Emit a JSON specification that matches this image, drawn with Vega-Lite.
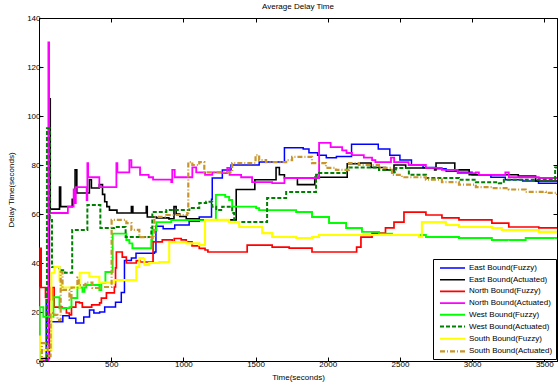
{
"$schema":"https://vega.github.io/schema/vega-lite/v6.json",
"width":518,"height":343,
"autosize":{"type":"none"},
"padding":{"left":39,"top":18,"right":1,"bottom":26},
"background":"white",
"title":{"text":"Average Delay Time","fontSize":8,"fontWeight":"normal","font":"Liberation Sans","offset":3,"color":"black"},
"config":{
 "view":{"stroke":"black","strokeWidth":1},
 "axis":{"domainColor":"black","tickColor":"black","labelColor":"black","titleColor":"black","labelFont":"Liberation Sans","titleFont":"Liberation Sans","labelFontSize":8,"titleFontSize":8,"titleFontWeight":"normal","grid":false,"tickSize":-4,"labelPadding":3,"format":"d"},
 "legend":{"orient":"none","legendX":394,"legendY":241,"strokeColor":"black","fillColor":"white","padding":3,"labelFont":"Liberation Sans","labelFontSize":8,"labelColor":"black","symbolType":"M-2.5,0H2.5","symbolSize":100,"symbolStrokeWidth":1.5,"rowPadding":1.7,"symbolOffset":10,"labelOffset":10}
},
"data":{"values":[
{"s":"East Bound(Fuzzy)","t":0,"v":0},{"s":"East Bound(Fuzzy)","t":48,"v":0},{"s":"East Bound(Fuzzy)","t":50,"v":25},{"s":"East Bound(Fuzzy)","t":53,"v":16},{"s":"East Bound(Fuzzy)","t":165,"v":18.5},{"s":"East Bound(Fuzzy)","t":210,"v":17.5},{"s":"East Bound(Fuzzy)","t":255,"v":15.5},{"s":"East Bound(Fuzzy)","t":310,"v":18},{"s":"East Bound(Fuzzy)","t":350,"v":20.8},{"s":"East Bound(Fuzzy)","t":380,"v":19.6},{"s":"East Bound(Fuzzy)","t":420,"v":20},{"s":"East Bound(Fuzzy)","t":455,"v":22},{"s":"East Bound(Fuzzy)","t":530,"v":24},{"s":"East Bound(Fuzzy)","t":570,"v":28},{"s":"East Bound(Fuzzy)","t":592,"v":41},{"s":"East Bound(Fuzzy)","t":640,"v":42},{"s":"East Bound(Fuzzy)","t":672,"v":44},{"s":"East Bound(Fuzzy)","t":800,"v":44.5},{"s":"East Bound(Fuzzy)","t":810,"v":55},{"s":"East Bound(Fuzzy)","t":860,"v":54},{"s":"East Bound(Fuzzy)","t":940,"v":55.5},{"s":"East Bound(Fuzzy)","t":1040,"v":57},{"s":"East Bound(Fuzzy)","t":1110,"v":58.8},{"s":"East Bound(Fuzzy)","t":1195,"v":66},{"s":"East Bound(Fuzzy)","t":1200,"v":74.7},{"s":"East Bound(Fuzzy)","t":1270,"v":78},{"s":"East Bound(Fuzzy)","t":1330,"v":80},{"s":"East Bound(Fuzzy)","t":1525,"v":81.2},{"s":"East Bound(Fuzzy)","t":1700,"v":87},{"s":"East Bound(Fuzzy)","t":1830,"v":86.5},{"s":"East Bound(Fuzzy)","t":1870,"v":85},{"s":"East Bound(Fuzzy)","t":1930,"v":84},{"s":"East Bound(Fuzzy)","t":1990,"v":83},{"s":"East Bound(Fuzzy)","t":2060,"v":83.5},{"s":"East Bound(Fuzzy)","t":2165,"v":88.5},{"s":"East Bound(Fuzzy)","t":2350,"v":86.5},{"s":"East Bound(Fuzzy)","t":2430,"v":84},{"s":"East Bound(Fuzzy)","t":2500,"v":82},{"s":"East Bound(Fuzzy)","t":2580,"v":80},{"s":"East Bound(Fuzzy)","t":2660,"v":79},{"s":"East Bound(Fuzzy)","t":2750,"v":78.5},{"s":"East Bound(Fuzzy)","t":2820,"v":77.5},{"s":"East Bound(Fuzzy)","t":2900,"v":77},{"s":"East Bound(Fuzzy)","t":3000,"v":76},{"s":"East Bound(Fuzzy)","t":3130,"v":75},{"s":"East Bound(Fuzzy)","t":3230,"v":74},{"s":"East Bound(Fuzzy)","t":3350,"v":73.5},{"s":"East Bound(Fuzzy)","t":3460,"v":72.6},{"s":"East Bound(Fuzzy)","t":3588,"v":72.3},
{"s":"East Bound(Actuated)","t":0,"v":1},{"s":"East Bound(Actuated)","t":65,"v":1},{"s":"East Bound(Actuated)","t":72,"v":107},{"s":"East Bound(Actuated)","t":78,"v":62},{"s":"East Bound(Actuated)","t":142,"v":71},{"s":"East Bound(Actuated)","t":150,"v":63},{"s":"East Bound(Actuated)","t":230,"v":66},{"s":"East Bound(Actuated)","t":250,"v":78},{"s":"East Bound(Actuated)","t":262,"v":68.6},{"s":"East Bound(Actuated)","t":340,"v":68.6},{"s":"East Bound(Actuated)","t":349,"v":74},{"s":"East Bound(Actuated)","t":363,"v":70.6},{"s":"East Bound(Actuated)","t":418,"v":72},{"s":"East Bound(Actuated)","t":440,"v":68},{"s":"East Bound(Actuated)","t":455,"v":65},{"s":"East Bound(Actuated)","t":470,"v":63},{"s":"East Bound(Actuated)","t":488,"v":61.6},{"s":"East Bound(Actuated)","t":540,"v":60.4},{"s":"East Bound(Actuated)","t":630,"v":60.4},{"s":"East Bound(Actuated)","t":640,"v":63},{"s":"East Bound(Actuated)","t":650,"v":60.4},{"s":"East Bound(Actuated)","t":740,"v":60.4},{"s":"East Bound(Actuated)","t":743,"v":63},{"s":"East Bound(Actuated)","t":750,"v":58.8},{"s":"East Bound(Actuated)","t":813,"v":58.4},{"s":"East Bound(Actuated)","t":900,"v":58},{"s":"East Bound(Actuated)","t":935,"v":63},{"s":"East Bound(Actuated)","t":950,"v":60},{"s":"East Bound(Actuated)","t":975,"v":59},{"s":"East Bound(Actuated)","t":1020,"v":58},{"s":"East Bound(Actuated)","t":1110,"v":57.6},{"s":"East Bound(Actuated)","t":1366,"v":70},{"s":"East Bound(Actuated)","t":1495,"v":74},{"s":"East Bound(Actuated)","t":1636,"v":74},{"s":"East Bound(Actuated)","t":1642,"v":79},{"s":"East Bound(Actuated)","t":1665,"v":76},{"s":"East Bound(Actuated)","t":1700,"v":74.7},{"s":"East Bound(Actuated)","t":1790,"v":72},{"s":"East Bound(Actuated)","t":1910,"v":75},{"s":"East Bound(Actuated)","t":2135,"v":80.5},{"s":"East Bound(Actuated)","t":2220,"v":80.8},{"s":"East Bound(Actuated)","t":2300,"v":79},{"s":"East Bound(Actuated)","t":2400,"v":78},{"s":"East Bound(Actuated)","t":2445,"v":77},{"s":"East Bound(Actuated)","t":2459,"v":80},{"s":"East Bound(Actuated)","t":2540,"v":78.8},{"s":"East Bound(Actuated)","t":2740,"v":78},{"s":"East Bound(Actuated)","t":2750,"v":80.8},{"s":"East Bound(Actuated)","t":2880,"v":78},{"s":"East Bound(Actuated)","t":2980,"v":76},{"s":"East Bound(Actuated)","t":3320,"v":75.5},{"s":"East Bound(Actuated)","t":3440,"v":73.5},{"s":"East Bound(Actuated)","t":3588,"v":73.5},
{"s":"North Bound(Fuzzy)","t":0,"v":0},{"s":"North Bound(Fuzzy)","t":3,"v":30},{"s":"North Bound(Fuzzy)","t":8,"v":46},{"s":"North Bound(Fuzzy)","t":15,"v":30},{"s":"North Bound(Fuzzy)","t":45,"v":26},{"s":"North Bound(Fuzzy)","t":60,"v":30},{"s":"North Bound(Fuzzy)","t":75,"v":25},{"s":"North Bound(Fuzzy)","t":90,"v":30},{"s":"North Bound(Fuzzy)","t":105,"v":22},{"s":"North Bound(Fuzzy)","t":160,"v":21.6},{"s":"North Bound(Fuzzy)","t":190,"v":19.6},{"s":"North Bound(Fuzzy)","t":210,"v":18.8},{"s":"North Bound(Fuzzy)","t":225,"v":22},{"s":"North Bound(Fuzzy)","t":255,"v":24},{"s":"North Bound(Fuzzy)","t":280,"v":23.7},{"s":"North Bound(Fuzzy)","t":300,"v":22},{"s":"North Bound(Fuzzy)","t":365,"v":22.9},{"s":"North Bound(Fuzzy)","t":420,"v":23.7},{"s":"North Bound(Fuzzy)","t":432,"v":25.7},{"s":"North Bound(Fuzzy)","t":467,"v":27.8},{"s":"North Bound(Fuzzy)","t":522,"v":30.2},{"s":"North Bound(Fuzzy)","t":530,"v":38},{"s":"North Bound(Fuzzy)","t":536,"v":44.5},{"s":"North Bound(Fuzzy)","t":577,"v":42.4},{"s":"North Bound(Fuzzy)","t":605,"v":40},{"s":"North Bound(Fuzzy)","t":674,"v":41},{"s":"North Bound(Fuzzy)","t":700,"v":40.4},{"s":"North Bound(Fuzzy)","t":785,"v":40},{"s":"North Bound(Fuzzy)","t":790,"v":48.6},{"s":"North Bound(Fuzzy)","t":854,"v":49.4},{"s":"North Bound(Fuzzy)","t":923,"v":48.6},{"s":"North Bound(Fuzzy)","t":937,"v":50},{"s":"North Bound(Fuzzy)","t":985,"v":49.4},{"s":"North Bound(Fuzzy)","t":1020,"v":48.6},{"s":"North Bound(Fuzzy)","t":1060,"v":47},{"s":"North Bound(Fuzzy)","t":1110,"v":46},{"s":"North Bound(Fuzzy)","t":1150,"v":45.3},{"s":"North Bound(Fuzzy)","t":1170,"v":44.5},{"s":"North Bound(Fuzzy)","t":1442,"v":47.3},{"s":"North Bound(Fuzzy)","t":1615,"v":46.5},{"s":"North Bound(Fuzzy)","t":1733,"v":46.1},{"s":"North Bound(Fuzzy)","t":1891,"v":44.5},{"s":"North Bound(Fuzzy)","t":2200,"v":46.5},{"s":"North Bound(Fuzzy)","t":2230,"v":50.6},{"s":"North Bound(Fuzzy)","t":2307,"v":52.2},{"s":"North Bound(Fuzzy)","t":2400,"v":54.3},{"s":"North Bound(Fuzzy)","t":2459,"v":56.7},{"s":"North Bound(Fuzzy)","t":2528,"v":60.8},{"s":"North Bound(Fuzzy)","t":2680,"v":59.6},{"s":"North Bound(Fuzzy)","t":2791,"v":58.4},{"s":"North Bound(Fuzzy)","t":2909,"v":57.6},{"s":"North Bound(Fuzzy)","t":3137,"v":56.3},{"s":"North Bound(Fuzzy)","t":3254,"v":54.7},{"s":"North Bound(Fuzzy)","t":3462,"v":54.3},{"s":"North Bound(Fuzzy)","t":3588,"v":54.3},
{"s":"North Bound(Actuated)","t":0,"v":0},{"s":"North Bound(Actuated)","t":60,"v":0},{"s":"North Bound(Actuated)","t":65,"v":130},{"s":"North Bound(Actuated)","t":70,"v":60.4},{"s":"North Bound(Actuated)","t":200,"v":63},{"s":"North Bound(Actuated)","t":240,"v":70},{"s":"North Bound(Actuated)","t":250,"v":64.5},{"s":"North Bound(Actuated)","t":255,"v":71},{"s":"North Bound(Actuated)","t":330,"v":65.7},{"s":"North Bound(Actuated)","t":335,"v":80.8},{"s":"North Bound(Actuated)","t":340,"v":75},{"s":"North Bound(Actuated)","t":418,"v":71},{"s":"North Bound(Actuated)","t":536,"v":80.8},{"s":"North Bound(Actuated)","t":543,"v":77},{"s":"North Bound(Actuated)","t":626,"v":82},{"s":"North Bound(Actuated)","t":640,"v":79},{"s":"North Bound(Actuated)","t":700,"v":76},{"s":"North Bound(Actuated)","t":760,"v":75},{"s":"North Bound(Actuated)","t":790,"v":74},{"s":"North Bound(Actuated)","t":916,"v":73},{"s":"North Bound(Actuated)","t":923,"v":78},{"s":"North Bound(Actuated)","t":940,"v":75},{"s":"North Bound(Actuated)","t":1062,"v":79},{"s":"North Bound(Actuated)","t":1089,"v":77},{"s":"North Bound(Actuated)","t":1150,"v":76},{"s":"North Bound(Actuated)","t":1200,"v":77},{"s":"North Bound(Actuated)","t":1269,"v":76.7},{"s":"North Bound(Actuated)","t":1304,"v":78.8},{"s":"North Bound(Actuated)","t":1320,"v":76},{"s":"North Bound(Actuated)","t":1400,"v":75},{"s":"North Bound(Actuated)","t":1476,"v":73},{"s":"North Bound(Actuated)","t":1615,"v":72.6},{"s":"North Bound(Actuated)","t":1700,"v":74.7},{"s":"North Bound(Actuated)","t":1940,"v":89},{"s":"North Bound(Actuated)","t":2020,"v":87.3},{"s":"North Bound(Actuated)","t":2100,"v":86},{"s":"North Bound(Actuated)","t":2130,"v":84.9},{"s":"North Bound(Actuated)","t":2168,"v":84},{"s":"North Bound(Actuated)","t":2250,"v":83},{"s":"North Bound(Actuated)","t":2307,"v":82},{"s":"North Bound(Actuated)","t":2330,"v":81.2},{"s":"North Bound(Actuated)","t":2438,"v":83},{"s":"North Bound(Actuated)","t":2460,"v":81.2},{"s":"North Bound(Actuated)","t":2560,"v":80},{"s":"North Bound(Actuated)","t":2680,"v":78.8},{"s":"North Bound(Actuated)","t":2790,"v":78},{"s":"North Bound(Actuated)","t":2900,"v":76.7},{"s":"North Bound(Actuated)","t":3026,"v":77},{"s":"North Bound(Actuated)","t":3047,"v":76},{"s":"North Bound(Actuated)","t":3230,"v":77},{"s":"North Bound(Actuated)","t":3254,"v":75},{"s":"North Bound(Actuated)","t":3462,"v":74.7},{"s":"North Bound(Actuated)","t":3588,"v":74.7},
{"s":"West Bound(Fuzzy)","t":0,"v":0},{"s":"West Bound(Fuzzy)","t":5,"v":22},{"s":"West Bound(Fuzzy)","t":30,"v":18},{"s":"West Bound(Fuzzy)","t":100,"v":26},{"s":"West Bound(Fuzzy)","t":142,"v":21.6},{"s":"West Bound(Fuzzy)","t":211,"v":22},{"s":"West Bound(Fuzzy)","t":225,"v":25.7},{"s":"West Bound(Fuzzy)","t":266,"v":30},{"s":"West Bound(Fuzzy)","t":301,"v":28.2},{"s":"West Bound(Fuzzy)","t":315,"v":30},{"s":"West Bound(Fuzzy)","t":328,"v":31},{"s":"West Bound(Fuzzy)","t":418,"v":29},{"s":"West Bound(Fuzzy)","t":432,"v":31.8},{"s":"West Bound(Fuzzy)","t":460,"v":36.3},{"s":"West Bound(Fuzzy)","t":510,"v":52},{"s":"West Bound(Fuzzy)","t":577,"v":52},{"s":"West Bound(Fuzzy)","t":605,"v":49.4},{"s":"West Bound(Fuzzy)","t":626,"v":48},{"s":"West Bound(Fuzzy)","t":647,"v":46},{"s":"West Bound(Fuzzy)","t":778,"v":49.4},{"s":"West Bound(Fuzzy)","t":785,"v":53.5},{"s":"West Bound(Fuzzy)","t":813,"v":56.7},{"s":"West Bound(Fuzzy)","t":916,"v":57.5},{"s":"West Bound(Fuzzy)","t":1225,"v":67.8},{"s":"West Bound(Fuzzy)","t":1290,"v":67},{"s":"West Bound(Fuzzy)","t":1317,"v":65.7},{"s":"West Bound(Fuzzy)","t":1338,"v":63},{"s":"West Bound(Fuzzy)","t":1504,"v":62.4},{"s":"West Bound(Fuzzy)","t":1525,"v":61.6},{"s":"West Bound(Fuzzy)","t":1781,"v":60.8},{"s":"West Bound(Fuzzy)","t":1891,"v":58.8},{"s":"West Bound(Fuzzy)","t":2009,"v":56.3},{"s":"West Bound(Fuzzy)","t":2127,"v":54.3},{"s":"West Bound(Fuzzy)","t":2237,"v":52.7},{"s":"West Bound(Fuzzy)","t":2355,"v":52},{"s":"West Bound(Fuzzy)","t":2445,"v":51.4},{"s":"West Bound(Fuzzy)","t":2680,"v":50.6},{"s":"West Bound(Fuzzy)","t":2909,"v":50.2},{"s":"West Bound(Fuzzy)","t":3137,"v":49.4},{"s":"West Bound(Fuzzy)","t":3371,"v":50.2},{"s":"West Bound(Fuzzy)","t":3588,"v":50.2},
{"s":"West Bound(Actuated)","t":0,"v":0},{"s":"West Bound(Actuated)","t":50,"v":0},{"s":"West Bound(Actuated)","t":55,"v":95},{"s":"West Bound(Actuated)","t":75,"v":57.6},{"s":"West Bound(Actuated)","t":90,"v":38.4},{"s":"West Bound(Actuated)","t":140,"v":37},{"s":"West Bound(Actuated)","t":180,"v":36},{"s":"West Bound(Actuated)","t":230,"v":53.5},{"s":"West Bound(Actuated)","t":335,"v":63.7},{"s":"West Bound(Actuated)","t":425,"v":54.3},{"s":"West Bound(Actuated)","t":520,"v":54.7},{"s":"West Bound(Actuated)","t":600,"v":50.6},{"s":"West Bound(Actuated)","t":778,"v":54.3},{"s":"West Bound(Actuated)","t":785,"v":60.8},{"s":"West Bound(Actuated)","t":882,"v":61.6},{"s":"West Bound(Actuated)","t":1041,"v":62.4},{"s":"West Bound(Actuated)","t":1110,"v":64.5},{"s":"West Bound(Actuated)","t":1158,"v":65},{"s":"West Bound(Actuated)","t":1200,"v":63},{"s":"West Bound(Actuated)","t":1228,"v":61.6},{"s":"West Bound(Actuated)","t":1269,"v":63},{"s":"West Bound(Actuated)","t":1338,"v":60.4},{"s":"West Bound(Actuated)","t":1352,"v":56.7},{"s":"West Bound(Actuated)","t":1580,"v":66.5},{"s":"West Bound(Actuated)","t":1712,"v":69},{"s":"West Bound(Actuated)","t":1919,"v":76},{"s":"West Bound(Actuated)","t":1940,"v":76.7},{"s":"West Bound(Actuated)","t":2134,"v":79},{"s":"West Bound(Actuated)","t":2355,"v":78},{"s":"West Bound(Actuated)","t":2445,"v":77},{"s":"West Bound(Actuated)","t":2472,"v":78.8},{"s":"West Bound(Actuated)","t":2562,"v":76},{"s":"West Bound(Actuated)","t":2680,"v":74.7},{"s":"West Bound(Actuated)","t":2909,"v":74},{"s":"West Bound(Actuated)","t":3026,"v":73},{"s":"West Bound(Actuated)","t":3185,"v":72.6},{"s":"West Bound(Actuated)","t":3220,"v":74},{"s":"West Bound(Actuated)","t":3575,"v":79},{"s":"West Bound(Actuated)","t":3588,"v":79},
{"s":"South Bound(Fuzzy)","t":0,"v":0},{"s":"South Bound(Fuzzy)","t":3,"v":10},{"s":"South Bound(Fuzzy)","t":8,"v":4.5},{"s":"South Bound(Fuzzy)","t":86,"v":36},{"s":"South Bound(Fuzzy)","t":107,"v":38.4},{"s":"South Bound(Fuzzy)","t":142,"v":33},{"s":"South Bound(Fuzzy)","t":156,"v":30},{"s":"South Bound(Fuzzy)","t":282,"v":36},{"s":"South Bound(Fuzzy)","t":349,"v":34.4},{"s":"South Bound(Fuzzy)","t":418,"v":32},{"s":"South Bound(Fuzzy)","t":522,"v":33},{"s":"South Bound(Fuzzy)","t":674,"v":38.4},{"s":"South Bound(Fuzzy)","t":695,"v":42},{"s":"South Bound(Fuzzy)","t":730,"v":39.2},{"s":"South Bound(Fuzzy)","t":764,"v":40},{"s":"South Bound(Fuzzy)","t":833,"v":40.4},{"s":"South Bound(Fuzzy)","t":902,"v":48.6},{"s":"South Bound(Fuzzy)","t":1020,"v":48},{"s":"South Bound(Fuzzy)","t":1110,"v":47.3},{"s":"South Bound(Fuzzy)","t":1150,"v":57.6},{"s":"South Bound(Fuzzy)","t":1317,"v":56.7},{"s":"South Bound(Fuzzy)","t":1387,"v":54.7},{"s":"South Bound(Fuzzy)","t":1546,"v":52.2},{"s":"South Bound(Fuzzy)","t":1615,"v":50.6},{"s":"South Bound(Fuzzy)","t":1781,"v":50.2},{"s":"South Bound(Fuzzy)","t":1891,"v":50.6},{"s":"South Bound(Fuzzy)","t":1940,"v":51.4},{"s":"South Bound(Fuzzy)","t":2631,"v":50.6},{"s":"South Bound(Fuzzy)","t":2652,"v":56.7},{"s":"South Bound(Fuzzy)","t":2818,"v":55.5},{"s":"South Bound(Fuzzy)","t":2909,"v":54.7},{"s":"South Bound(Fuzzy)","t":3137,"v":54.3},{"s":"South Bound(Fuzzy)","t":3206,"v":53.5},{"s":"South Bound(Fuzzy)","t":3462,"v":52.7},{"s":"South Bound(Fuzzy)","t":3588,"v":52.7},
{"s":"South Bound(Actuated)","t":0,"v":0},{"s":"South Bound(Actuated)","t":20,"v":7.3},{"s":"South Bound(Actuated)","t":60,"v":2},{"s":"South Bound(Actuated)","t":80,"v":19.6},{"s":"South Bound(Actuated)","t":107,"v":18.8},{"s":"South Bound(Actuated)","t":128,"v":16.7},{"s":"South Bound(Actuated)","t":150,"v":36.3},{"s":"South Bound(Actuated)","t":163,"v":29},{"s":"South Bound(Actuated)","t":211,"v":25},{"s":"South Bound(Actuated)","t":225,"v":30},{"s":"South Bound(Actuated)","t":266,"v":34},{"s":"South Bound(Actuated)","t":275,"v":31},{"s":"South Bound(Actuated)","t":322,"v":32},{"s":"South Bound(Actuated)","t":370,"v":29.8},{"s":"South Bound(Actuated)","t":418,"v":30.2},{"s":"South Bound(Actuated)","t":503,"v":57.6},{"s":"South Bound(Actuated)","t":605,"v":56.3},{"s":"South Bound(Actuated)","t":640,"v":53.5},{"s":"South Bound(Actuated)","t":695,"v":50.6},{"s":"South Bound(Actuated)","t":785,"v":50.2},{"s":"South Bound(Actuated)","t":799,"v":58.8},{"s":"South Bound(Actuated)","t":882,"v":59.6},{"s":"South Bound(Actuated)","t":1027,"v":60.4},{"s":"South Bound(Actuated)","t":1034,"v":81.2},{"s":"South Bound(Actuated)","t":1062,"v":80},{"s":"South Bound(Actuated)","t":1110,"v":81.2},{"s":"South Bound(Actuated)","t":1145,"v":77},{"s":"South Bound(Actuated)","t":1338,"v":80.8},{"s":"South Bound(Actuated)","t":1500,"v":84},{"s":"South Bound(Actuated)","t":1525,"v":82},{"s":"South Bound(Actuated)","t":1573,"v":81.2},{"s":"South Bound(Actuated)","t":1712,"v":82},{"s":"South Bound(Actuated)","t":1753,"v":83.3},{"s":"South Bound(Actuated)","t":1891,"v":80.8},{"s":"South Bound(Actuated)","t":1988,"v":78.8},{"s":"South Bound(Actuated)","t":2057,"v":78},{"s":"South Bound(Actuated)","t":2147,"v":80.8},{"s":"South Bound(Actuated)","t":2216,"v":80},{"s":"South Bound(Actuated)","t":2355,"v":78.8},{"s":"South Bound(Actuated)","t":2445,"v":76},{"s":"South Bound(Actuated)","t":2514,"v":75},{"s":"South Bound(Actuated)","t":2680,"v":74},{"s":"South Bound(Actuated)","t":2791,"v":73},{"s":"South Bound(Actuated)","t":2909,"v":72},{"s":"South Bound(Actuated)","t":3026,"v":71},{"s":"South Bound(Actuated)","t":3137,"v":70.6},{"s":"South Bound(Actuated)","t":3254,"v":70},{"s":"South Bound(Actuated)","t":3371,"v":69},{"s":"South Bound(Actuated)","t":3510,"v":68.6},{"s":"South Bound(Actuated)","t":3588,"v":67.8}
]},
"layer":[
 {"mark":{"type":"line","interpolate":"step-after","clip":true},
  "encoding":{
   "x":{"field":"t","type":"quantitative","scale":{"domain":[0,3588],"nice":false,"zero":false},"axis":{"title":"Time(seconds)","values":[0,500,1000,1500,2000,2500,3000,3500],"titlePadding":5}},
   "y":{"field":"v","type":"quantitative","scale":{"domain":[0,140],"nice":false},"axis":{"title":"Delay Time(seconds)","values":[0,20,40,60,80,100,120,140],"titlePadding":11}},
   "color":{"field":"s","type":"nominal","scale":{"domain":["East Bound(Fuzzy)","East Bound(Actuated)","North Bound(Fuzzy)","North Bound(Actuated)","West Bound(Fuzzy)","West Bound(Actuated)","South Bound(Fuzzy)","South Bound(Actuated)"],"range":["#0000ff","#000000","#ff0000","#ff00ff","#00ff00","#008000","#ffff00","#c8962c"]},"legend":{"title":null}},
   "strokeDash":{"field":"s","type":"nominal","scale":{"domain":["East Bound(Fuzzy)","East Bound(Actuated)","North Bound(Fuzzy)","North Bound(Actuated)","West Bound(Fuzzy)","West Bound(Actuated)","South Bound(Fuzzy)","South Bound(Actuated)"],"range":[[1,0],[1,0],[1,0],[1,0],[1,0],[4,2],[1,0],[5,2,1,2]]},"legend":{"title":null}},
   "strokeWidth":{"field":"s","type":"ordinal","scale":{"domain":["East Bound(Fuzzy)","East Bound(Actuated)","North Bound(Fuzzy)","North Bound(Actuated)","West Bound(Fuzzy)","West Bound(Actuated)","South Bound(Fuzzy)","South Bound(Actuated)"],"range":[1.5,2.2,1.5,3.5,1.5,1.3,1.5,1.3]},"legend":null}
  }},
 {"mark":{"type":"point","opacity":0},
  "encoding":{
   "x":{"field":"t","type":"quantitative","axis":{"orient":"top","labels":false,"title":null,"values":[0,500,1000,1500,2000,2500,3000,3500]}},
   "y":{"field":"v","type":"quantitative","axis":{"orient":"right","labels":false,"title":null,"values":[0,20,40,60,80,100,120,140]}}
  }}
],
"resolve":{"axis":{"x":"independent","y":"independent"}}
}
